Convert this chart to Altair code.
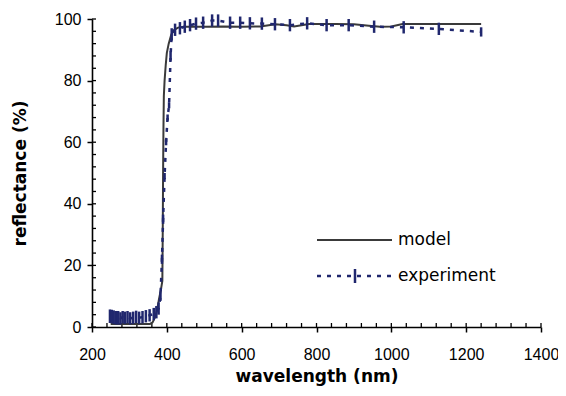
import altair as alt
import pandas as pd

# ---- data ----
model_wl = [250, 300, 355, 362, 368, 374, 379, 384, 388, 389, 390, 391, 392, 394, 397, 400,
            405, 412, 420, 430, 445, 500, 550, 600, 650, 690, 720, 740, 760, 780, 850,
            900, 940, 970, 1000, 1030, 1100, 1240]
model_val = [1, 1, 1, 1.5, 3, 5.5, 9, 12, 15, 30, 50, 65, 75, 80, 85, 89,
             92, 95, 96.5, 97.2, 97.5, 97.5, 97.6, 97.5, 97.6, 98.3, 98.0, 97.6, 98.0, 98.4, 98.4,
             98.3, 97.8, 97.5, 97.6, 98.4, 98.4, 98.4]

exp_wl = [248, 253, 258, 264, 270, 276, 282, 288, 295, 302, 310, 318, 326, 335, 344, 354,
          365, 372, 378, 383, 387, 390, 394, 398, 402, 406, 410, 413, 422, 435, 448, 462,
          478, 497, 521, 537, 569, 596, 622, 654, 689, 729, 775, 827, 886, 954, 1033,
          1127, 1240]
exp_val = [3.5, 3.4, 3.2, 3.0, 3.0, 2.8, 3.2, 3.0, 3.2, 2.8, 3.0, 3.3, 3.0, 3.2, 3.5, 3.8,
           4.2, 4.8, 6, 10, 22, 35, 49, 60, 68, 72, 88, 95, 96.5, 97.0, 97.5, 98.0,
           98.5, 98.8, 99.5, 99.5, 98.8, 98.8, 98.6, 98.5, 98.3, 98.0, 98.6, 98.0, 98.0, 97.5, 97.3,
           96.8, 95.8]
exp_err = [2.2, 2.2, 2.2, 2.2, 2.2, 2.0, 2.0, 2.0, 2.0, 2.0, 2.0, 2.0, 2.0, 2.0, 2.0, 2.0,
           2.0, 2.0, 2.0, 1.5, 1.5, 1.5, 1.0, 1.0, 1.0, 1.0, 1.5, 2.0, 2.0, 2.0, 2.0, 2.0,
           2.0, 2.0, 2.0, 2.0, 2.0, 2.0, 2.0, 2.0, 2.0, 2.0, 2.0, 2.0, 2.0, 2.0, 2.0,
           2.0, 1.5]

x_ticks = [200, 400, 600, 800, 1000, 1200, 1400]
y_ticks = [0, 20, 40, 60, 80, 100]
x_minor = [200, 240, 280, 320, 360, 400, 440, 480, 520, 560, 600, 640, 680, 720, 760, 800,
           840, 880, 920, 960, 1000, 1040, 1080, 1120, 1160, 1200, 1240, 1280, 1320, 1360, 1400]
y_minor = [0, 4, 8, 12, 16, 20, 24, 28, 32, 36, 40, 44, 48, 52, 56, 60, 64, 68, 72, 76, 80,
           84, 88, 92, 96, 100]

series_names = ["model", "experiment"]

# ---- styles ----
W, H = 449, 308
NAVY = "#20276e"
GRAY = "#3a3a3a"
FONT = "Liberation Sans"
WIDE = "DejaVu Sans"

model_df = pd.DataFrame({"wl": model_wl, "r": model_val})
exp_df = pd.DataFrame({
    "wl": exp_wl, "r": exp_val,
    "lo": [v - e for v, e in zip(exp_val, exp_err)],
    "hi": [v + e for v, e in zip(exp_val, exp_err)],
})
xminor_df = pd.DataFrame({"wl": x_minor})
yminor_df = pd.DataFrame({"r": y_minor})
one = pd.DataFrame({"a": [0]})

xs = alt.Scale(domain=[200, 1400], nice=False, zero=False)
ys = alt.Scale(domain=[0, 100], nice=False)
xaxis = alt.Axis(values=x_ticks, title="wavelength (nm)", grid=False, labelPadding=14,
                 titlePadding=6, format="d", labelFlush=False)
yaxis = alt.Axis(values=y_ticks, title="reflectance (%)", grid=False, labelPadding=6,
                 titlePadding=25, format="d", labelFlush=False)

X = alt.X("wl:Q", scale=xs, axis=xaxis)
Y = alt.Y("r:Q", scale=ys, axis=yaxis)

model_line = alt.Chart(model_df).mark_line(color=GRAY, strokeWidth=2).encode(x=X, y=Y)

exp_line = alt.Chart(exp_df).mark_line(color=NAVY, strokeWidth=2.5, strokeDash=[4, 6]).encode(x=X, y=Y)
exp_bars = alt.Chart(exp_df).mark_rule(color=NAVY, strokeWidth=2.5).encode(
    x=X, y=alt.Y("lo:Q", scale=ys, axis=yaxis), y2="hi:Q")

xminor = alt.Chart(xminor_df).mark_rule(color="black", strokeWidth=1.3).encode(
    x=X, y=alt.value(H), y2=alt.value(H - 4))
yminor = alt.Chart(yminor_df).mark_rule(color="black", strokeWidth=1.3).encode(
    y=Y, x=alt.value(0), x2=alt.value(4))

# legend (inside the plot)
leg_model = alt.Chart(one).mark_rule(color=GRAY, strokeWidth=2).encode(
    x=alt.value(225), x2=alt.value(300), y=alt.value(221))
leg_exp = alt.Chart(one).mark_rule(color=NAVY, strokeWidth=2.5, strokeDash=[4, 6]).encode(
    x=alt.value(225), x2=alt.value(300), y=alt.value(257))
leg_bar = alt.Chart(one).mark_rule(color=NAVY, strokeWidth=2.5).encode(
    x=alt.value(263), y=alt.value(250), y2=alt.value(264))
leg_t1 = alt.Chart(one).mark_text(align="left", baseline="middle", font=WIDE, fontSize=17,
                                  color="black").encode(
    x=alt.value(306), y=alt.value(221), text=alt.value(series_names[0]))
leg_t2 = alt.Chart(one).mark_text(align="left", baseline="middle", font=WIDE, fontSize=17,
                                  color="black").encode(
    x=alt.value(306), y=alt.value(257), text=alt.value(series_names[1]))

chart = alt.layer(
    xminor, yminor, model_line, exp_line, exp_bars,
    leg_model, leg_exp, leg_bar, leg_t1, leg_t2,
).properties(
    width=W, height=H,
    autosize=alt.AutoSizeParams(type="none"),
    padding={"left": 84, "top": 11, "right": 17, "bottom": 61},
).configure_view(
    strokeWidth=0
).configure_axis(
    domainColor="black", domainWidth=1.6, tickColor="black", tickWidth=1.5, tickSize=5,
    labelFont=FONT, labelFontSize=16, labelColor="black",
    titleFont=WIDE, titleFontSize=17, titleFontWeight="bold", titleColor="black",
)

chart.save("out.html", embed_options={"renderer": "svg", "actions": False})
